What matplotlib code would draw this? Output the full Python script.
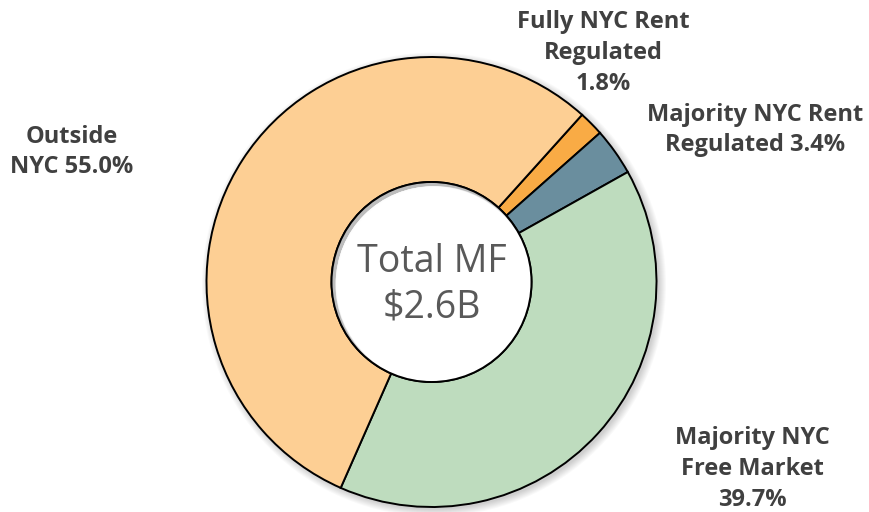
import matplotlib
matplotlib.use("Agg")
import matplotlib.pyplot as plt
from matplotlib.patches import Circle

categories = ["Fully NYC Rent\nRegulated", "Majority NYC Rent\nRegulated", "Majority NYC\nFree Market", "Outside\nNYC"]
values = [1.8, 3.4, 39.7, 55.0]
label_texts = ["Fully NYC Rent\nRegulated\n1.8%", "Majority NYC Rent\nRegulated 3.4%",
               "Majority NYC\nFree Market\n39.7%", "Outside\nNYC 55.0%"]
colors = ["#F9AB45", "#6A8E9E", "#BEDCBE", "#FDCF94"]
center_title = "Total MF\n$2.6B"

W, H = 869, 512
fig = plt.figure(figsize=(W / 100, H / 100), dpi=100)
ax = fig.add_axes([0, 0, 1, 1])

cx, cy = 431.5, H - 282
R = 225
r_in = 100

# soft outer shadow (bottom-right)
for k in range(8):
    ax.add_patch(Circle((cx + 2.5, cy - 2.5), R + 7 - k, facecolor="black",
                        alpha=0.025, edgecolor="none", zorder=1))

wedges, _ = ax.pie(values, colors=colors, startangle=48, counterclock=False,
                   center=(cx, cy), radius=R,
                   wedgeprops=dict(width=R - r_in, edgecolor="black", linewidth=1.4),
                   frame=True)
for w in wedges:
    w.set_zorder(2)
ax.set_xlim(0, W)
ax.set_ylim(0, H)
ax.set_aspect("equal")
ax.axis("off")

# hole with inner shadow (top-left)
hole = Circle((cx, cy), r_in, facecolor="#bdbdbd", edgecolor="none", zorder=3)
ax.add_patch(hole)
for k in range(7):
    c = Circle((cx + 3 - k * 0.4, cy - 3 + k * 0.4), r_in - 1 - k * 0.5,
               facecolor="white", alpha=0.45, edgecolor="none", zorder=3.1)
    c.set_clip_path(hole)
    ax.add_patch(c)
c = Circle((cx + 3, cy - 3), r_in - 2, facecolor="white", edgecolor="none", zorder=3.2)
c.set_clip_path(hole)
ax.add_patch(c)
ax.add_patch(Circle((cx, cy), r_in, facecolor="none", edgecolor="black", linewidth=1.4, zorder=4))

ax.text(cx, H - 285, center_title, ha="center", va="center", fontsize=27,
        family="Open Sans", color="#595959", linespacing=1.25, zorder=5)

lab_pos = [(603, 53), (755, 130), (752, 469), (72, 152)]
for txt, (x, y) in zip(label_texts, lab_pos):
    ax.text(x, H - y, txt, ha="center", va="center", fontsize=17, fontweight="bold",
            family="Open Sans", color="#404040", linespacing=1.38, zorder=5)

fig.savefig("out.png", dpi=100, facecolor="white")
